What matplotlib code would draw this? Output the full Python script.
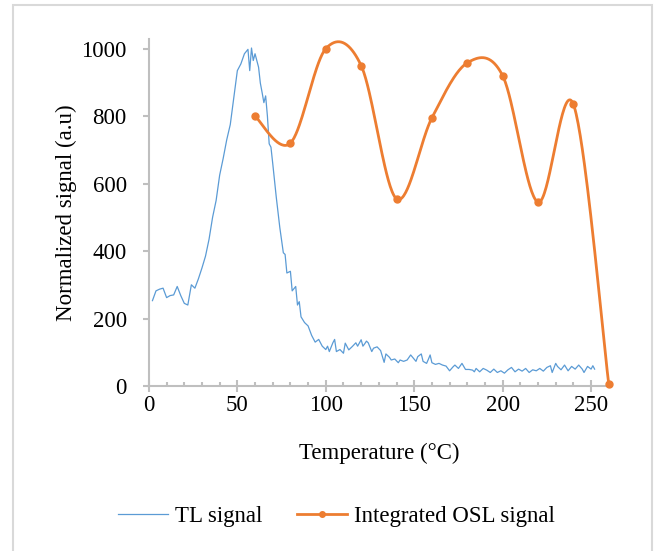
import numpy as np
import matplotlib
matplotlib.use("Agg")
import matplotlib.pyplot as plt
from matplotlib.patches import Rectangle
from matplotlib.ticker import MultipleLocator

plt.rcParams['font.family'] = ['Liberation Serif', 'DejaVu Serif']

# TL glow curve (temperature in degC, normalized signal)
tl_temp = [2, 4, 6, 8, 10, 12, 14, 16, 18, 20, 22, 24, 26, 28, 30, 32, 34, 36, 38, 40,
           42, 44, 46, 48, 50, 52, 54, 56, 57, 58, 59, 60, 62, 63, 64, 65, 66, 67, 68, 69,
           70, 72, 74, 76, 77, 78, 80, 81, 83, 84, 85, 86, 88, 90, 92, 94, 96, 98, 100, 101,
           102, 104, 105, 106, 108, 110, 111, 113, 115, 117, 118, 120, 121, 122, 123, 124, 126, 127, 129, 131,
           132, 133, 134, 136, 137, 139, 141, 142, 144, 146, 148, 150, 151, 152, 154, 155, 157, 158, 159, 160,
           162, 164, 166, 168, 170, 172, 173, 175, 177, 179, 181, 183, 184, 185, 187, 189, 191, 193, 195, 197,
           199, 201, 203, 205, 207, 209, 211, 213, 215, 217, 219, 221, 223, 225, 227, 228, 230, 231, 233, 235,
           237, 239, 241, 243, 245, 246, 248, 250, 251, 252]
tl_signal = [253, 282, 287, 290, 262, 268, 270, 295, 268, 245, 240, 300, 290, 318, 350, 385, 435, 500, 550, 625,
             675, 730, 775, 855, 935, 955, 985, 998, 935, 1002, 965, 985, 945, 898, 870, 840, 860, 800, 718, 708,
             660, 560, 470, 395, 390, 335, 340, 282, 295, 240, 250, 205, 188, 178, 150, 130, 138, 118, 108, 118,
             102, 128, 138, 102, 108, 97, 127, 107, 117, 128, 118, 137, 118, 125, 133, 128, 102, 112, 116, 105,
             88, 70, 95, 85, 77, 80, 69, 77, 73, 77, 92, 79, 73, 87, 95, 73, 67, 79, 92, 69,
             64, 67, 62, 59, 45, 57, 62, 52, 67, 49, 49, 47, 42, 52, 42, 52, 47, 40, 50, 40,
             45, 38, 48, 55, 42, 50, 44, 52, 40, 48, 45, 52, 44, 55, 60, 40, 67, 58, 48, 62,
             45, 58, 50, 62, 50, 40, 58, 50, 60, 50]

# integrated OSL after preheat to each temperature
osl_temp = [60, 80, 100, 120, 140, 160, 180, 200, 220, 240, 260]
osl_signal = [800, 720, 1000, 950, 555, 795, 958, 920, 545, 835, 5]


def smooth_curve(x, y, n=40):
    """Catmull-Rom style bezier through the points (like a spreadsheet smoothed line)."""
    p = np.column_stack([x, y]).astype(float)
    p = np.vstack([p[0], p, p[-1]])
    out = []
    t = np.linspace(0, 1, n)[:, None]
    for i in range(1, len(p) - 2):
        p0, p1, p2, p3 = p[i - 1], p[i], p[i + 1], p[i + 2]
        b1 = p1 + (p2 - p0) / 6.0
        b2 = p2 - (p3 - p1) / 6.0
        seg = ((1 - t) ** 3) * p1 + 3 * ((1 - t) ** 2) * t * b1 + 3 * (1 - t) * t ** 2 * b2 + t ** 3 * p2
        out.append(seg if i == 1 else seg[1:])
    out = np.vstack(out)
    return out[:, 0], out[:, 1]


blue = '#5b9bd5'
orange = '#ed7d31'
axis_grey = '#bfbfbf'
fs = 16.5

fig = plt.figure(figsize=(6.56, 5.51), dpi=100)
ax = fig.add_axes([0.227, 0.2995, 0.701, 0.6305])

ax.plot(tl_temp, tl_signal, color=blue, lw=0.9, label='TL signal')
sx, sy = smooth_curve(osl_temp, osl_signal)
ax.plot(sx, sy, color=orange, lw=2.0, clip_on=False)
ax.plot(osl_temp, osl_signal, 'o', color=orange, ms=5, clip_on=False, zorder=3)
# legend proxy for the orange series
ax.plot([], [], color=orange, lw=2.0, marker='o', ms=4, label='Integrated OSL signal')

ax.set_xlim(0, 260)
ax.set_ylim(0, 1030)
ax.xaxis.set_major_locator(MultipleLocator(50))
ax.xaxis.set_minor_locator(MultipleLocator(10))
ax.yaxis.set_major_locator(MultipleLocator(200))

for s in ['top', 'right']:
    ax.spines[s].set_visible(False)
for s in ['left', 'bottom']:
    ax.spines[s].set_color(axis_grey)
    ax.spines[s].set_linewidth(1.5)

ax.tick_params(axis='x', which='major', direction='inout', length=9, width=1.5,
               color=axis_grey, labelsize=fs, pad=2)
ax.tick_params(axis='x', which='minor', direction='in', length=3, width=1.5, color=axis_grey)
ax.tick_params(axis='y', which='major', direction='out', length=4, width=1.5,
               color=axis_grey, labelsize=fs, pad=12)

ax.set_xlabel('Temperature (\u00b0C)', fontsize=fs, labelpad=19)
ax.set_ylabel('Normalized signal (a.u)', fontsize=fs, labelpad=3)

handles, labels = ax.get_legend_handles_labels()
fig.legend(handles, labels, loc='center', bbox_to_anchor=(0.513, 0.0635), ncol=2,
           frameon=False, fontsize=fs, handlelength=2.2, columnspacing=1.5, handletextpad=0.3)

# chart border
fig.patches.append(Rectangle((13 / 656, -0.1), 639 / 656, 1.1 - 5 / 551, transform=fig.transFigure,
                             fill=False, edgecolor='#d9d9d9', lw=1.5))

fig.savefig('out.png', dpi=100)
